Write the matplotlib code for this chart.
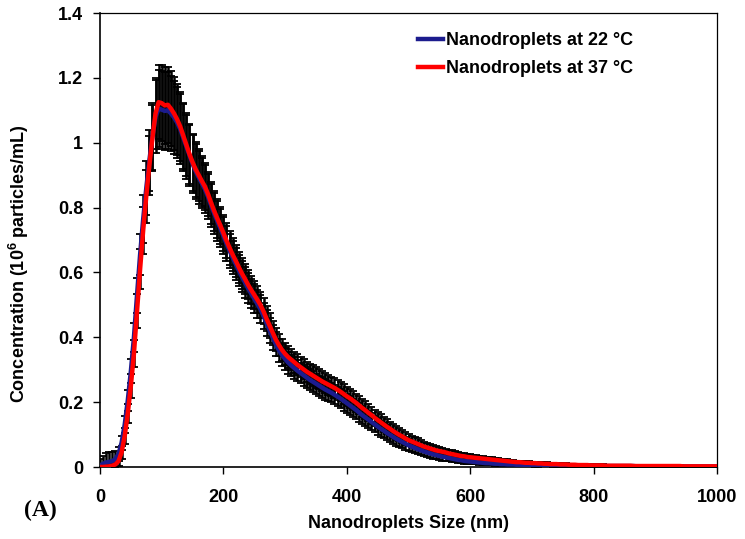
import numpy as np
import matplotlib
matplotlib.use("Agg")
import matplotlib.pyplot as plt
from matplotlib.lines import Line2D

plt.rcParams['font.family'] = ['Liberation Sans', 'DejaVu Sans']
plt.rcParams['font.weight'] = 'bold'
plt.rcParams['mathtext.fontset'] = 'custom'
plt.rcParams['mathtext.rm'] = 'Liberation Sans:bold'
plt.rcParams['mathtext.bf'] = 'Liberation Sans:bold'

# ---------------- data ----------------
size_nm = list(range(0, 1001, 5))

conc_37 = [
    0.000, 0.000, 0.001, 0.002, 0.004, 0.008, 0.018, 0.045, 0.095, 0.165,
    0.250, 0.350, 0.480, 0.610, 0.730, 0.835, 0.930, 1.015, 1.090, 1.125,
    1.122, 1.115, 1.117, 1.105, 1.090, 1.072, 1.050, 1.022, 0.995, 0.965,
    0.940, 0.918, 0.900, 0.882, 0.865, 0.842, 0.815, 0.790, 0.767, 0.745,
    0.722, 0.698, 0.676, 0.655, 0.636, 0.616, 0.597, 0.580, 0.562, 0.546,
    0.531, 0.516, 0.500, 0.480, 0.457, 0.436, 0.414, 0.393, 0.376, 0.361,
    0.349, 0.339, 0.331, 0.323, 0.315, 0.308, 0.301, 0.294, 0.288, 0.282,
    0.276, 0.270, 0.264, 0.259, 0.254, 0.249, 0.244, 0.238, 0.232, 0.225,
    0.218, 0.212, 0.205, 0.198, 0.190, 0.182, 0.175, 0.167, 0.160, 0.152,
    0.145, 0.138, 0.131, 0.124, 0.118, 0.111, 0.105, 0.099, 0.094, 0.088,
    0.083, 0.079, 0.075, 0.071, 0.067, 0.063, 0.060, 0.057, 0.054, 0.051,
    0.049, 0.047, 0.045, 0.042, 0.040, 0.038, 0.036, 0.034, 0.033, 0.031,
    0.030, 0.029, 0.028, 0.027, 0.026, 0.025, 0.024, 0.023, 0.022, 0.021,
    0.020, 0.019, 0.018, 0.017, 0.016, 0.015, 0.015, 0.014, 0.013, 0.013,
    0.012, 0.012, 0.011, 0.011, 0.010, 0.010, 0.009, 0.009, 0.009, 0.008,
    0.008, 0.008, 0.007, 0.007, 0.007, 0.006, 0.006, 0.006, 0.006, 0.005,
    0.005, 0.005, 0.005, 0.005, 0.004, 0.004, 0.004, 0.004, 0.004, 0.004,
    0.004, 0.004, 0.004, 0.003, 0.003, 0.003, 0.003, 0.003, 0.003, 0.003,
    0.003, 0.003, 0.003, 0.003, 0.003, 0.003, 0.003, 0.003, 0.003, 0.002,
    0.002, 0.002, 0.002, 0.002, 0.002, 0.002, 0.002, 0.002, 0.002, 0.002,
    0.002,
]

conc_22 = [
    0.005, 0.010, 0.014, 0.016, 0.018, 0.025, 0.040, 0.075, 0.130, 0.205,
    0.295, 0.400, 0.530, 0.655, 0.765, 0.860, 0.945, 1.020, 1.080, 1.105,
    1.102, 1.098, 1.100, 1.090, 1.078, 1.062, 1.042, 1.015, 0.988, 0.960,
    0.935, 0.912, 0.893, 0.875, 0.857, 0.834, 0.807, 0.782, 0.759, 0.736,
    0.713, 0.689, 0.667, 0.646, 0.626, 0.606, 0.587, 0.569, 0.551, 0.535,
    0.519, 0.503, 0.487, 0.466, 0.443, 0.421, 0.399, 0.378, 0.360, 0.345,
    0.333, 0.322, 0.313, 0.305, 0.297, 0.290, 0.283, 0.276, 0.269, 0.263,
    0.257, 0.251, 0.245, 0.239, 0.234, 0.229, 0.223, 0.217, 0.211, 0.204,
    0.197, 0.190, 0.183, 0.176, 0.168, 0.160, 0.153, 0.146, 0.139, 0.132,
    0.125, 0.118, 0.112, 0.105, 0.099, 0.093, 0.087, 0.082, 0.077, 0.072,
    0.067, 0.063, 0.059, 0.055, 0.052, 0.048, 0.045, 0.042, 0.039, 0.037,
    0.034, 0.032, 0.030, 0.028, 0.026, 0.024, 0.022, 0.021, 0.019, 0.018,
    0.017, 0.016, 0.015, 0.014, 0.013, 0.012, 0.012, 0.011, 0.010, 0.010,
    0.009, 0.009, 0.008, 0.008, 0.008, 0.007, 0.007, 0.007, 0.006, 0.006,
    0.006, 0.005, 0.005, 0.005, 0.005, 0.005, 0.005, 0.004, 0.004, 0.004,
    0.004, 0.004, 0.004, 0.004, 0.003, 0.003, 0.003, 0.003, 0.003, 0.003,
    0.003, 0.003, 0.003, 0.003, 0.003, 0.003, 0.003, 0.003, 0.003, 0.003,
    0.003, 0.003, 0.003, 0.003, 0.002, 0.002, 0.002, 0.002, 0.002, 0.002,
    0.002, 0.002, 0.002, 0.002, 0.002, 0.002, 0.002, 0.002, 0.002, 0.002,
    0.002, 0.002, 0.002, 0.002, 0.002, 0.002, 0.002, 0.002, 0.002, 0.002,
    0.002,
]

err_37 = [
    0.005, 0.005, 0.006, 0.008, 0.010, 0.012, 0.015, 0.020, 0.025, 0.030,
    0.036, 0.043, 0.052, 0.062, 0.072, 0.082, 0.092, 0.102, 0.110, 0.115,
    0.117, 0.118, 0.117, 0.115, 0.112, 0.109, 0.106, 0.102, 0.098, 0.093,
    0.088, 0.084, 0.080, 0.076, 0.072, 0.068, 0.065, 0.062, 0.060, 0.058,
    0.056, 0.054, 0.052, 0.050, 0.049, 0.048, 0.047, 0.046, 0.045, 0.044,
    0.043, 0.042, 0.041, 0.040, 0.039, 0.038, 0.037, 0.036, 0.035, 0.034,
    0.033, 0.033, 0.032, 0.032, 0.032, 0.031, 0.031, 0.031, 0.031, 0.031,
    0.031, 0.031, 0.031, 0.031, 0.031, 0.030, 0.030, 0.030, 0.030, 0.030,
    0.029, 0.029, 0.028, 0.028, 0.028, 0.027, 0.027, 0.026, 0.026, 0.025,
    0.025, 0.024, 0.024, 0.023, 0.022, 0.022, 0.021, 0.020, 0.020, 0.019,
    0.018, 0.018, 0.017, 0.017, 0.016, 0.015, 0.015, 0.014, 0.014, 0.013,
    0.013, 0.012, 0.012, 0.011, 0.011, 0.010, 0.010, 0.010, 0.009, 0.009,
    0.009, 0.008, 0.008, 0.008, 0.007, 0.007, 0.007, 0.007, 0.006, 0.006,
    0.006, 0.006, 0.006, 0.005, 0.005, 0.005, 0.005, 0.005, 0.005, 0.004,
    0.004, 0.004, 0.004, 0.004, 0.004, 0.004, 0.004, 0.004, 0.004, 0.004,
    0.003, 0.003, 0.003, 0.003, 0.003, 0.003, 0.003, 0.003, 0.003, 0.003,
    0.003, 0.003, 0.003, 0.003, 0.003, 0.003, 0.003, 0.003, 0.003, 0.003,
    0.003, 0.003, 0.003, 0.002, 0.002, 0.002, 0.002, 0.002, 0.002, 0.002,
    0.002, 0.002, 0.002, 0.002, 0.002, 0.002, 0.002, 0.002, 0.002, 0.002,
    0.002, 0.002, 0.002, 0.002, 0.002, 0.002, 0.002, 0.002, 0.002, 0.002,
    0.002,
]

err_22 = [
    0.020, 0.025, 0.030, 0.030, 0.028, 0.025, 0.022, 0.022, 0.026, 0.031,
    0.037, 0.045, 0.054, 0.064, 0.074, 0.084, 0.094, 0.104, 0.112, 0.118,
    0.120, 0.120, 0.118, 0.116, 0.113, 0.110, 0.107, 0.103, 0.099, 0.094,
    0.089, 0.085, 0.081, 0.077, 0.073, 0.069, 0.066, 0.063, 0.061, 0.059,
    0.057, 0.055, 0.053, 0.051, 0.050, 0.049, 0.048, 0.047, 0.046, 0.045,
    0.044, 0.043, 0.042, 0.041, 0.040, 0.039, 0.038, 0.037, 0.036, 0.035,
    0.034, 0.034, 0.033, 0.033, 0.033, 0.032, 0.032, 0.032, 0.032, 0.032,
    0.031, 0.031, 0.031, 0.031, 0.031, 0.030, 0.030, 0.030, 0.030, 0.030,
    0.029, 0.029, 0.028, 0.028, 0.028, 0.027, 0.027, 0.026, 0.026, 0.025,
    0.025, 0.024, 0.023, 0.023, 0.022, 0.021, 0.021, 0.020, 0.019, 0.019,
    0.018, 0.017, 0.017, 0.016, 0.015, 0.015, 0.014, 0.014, 0.013, 0.013,
    0.012, 0.012, 0.011, 0.011, 0.010, 0.010, 0.009, 0.009, 0.009, 0.008,
    0.008, 0.008, 0.007, 0.007, 0.007, 0.006, 0.006, 0.006, 0.006, 0.005,
    0.005, 0.005, 0.005, 0.005, 0.004, 0.004, 0.004, 0.004, 0.004, 0.004,
    0.004, 0.004, 0.004, 0.003, 0.003, 0.003, 0.003, 0.003, 0.003, 0.003,
    0.003, 0.003, 0.003, 0.003, 0.003, 0.003, 0.003, 0.003, 0.003, 0.003,
    0.003, 0.003, 0.003, 0.003, 0.003, 0.002, 0.002, 0.002, 0.002, 0.002,
    0.002, 0.002, 0.002, 0.002, 0.002, 0.002, 0.002, 0.002, 0.002, 0.002,
    0.002, 0.002, 0.002, 0.002, 0.002, 0.002, 0.002, 0.002, 0.002, 0.002,
    0.002, 0.002, 0.002, 0.002, 0.002, 0.002, 0.002, 0.002, 0.002, 0.002,
    0.002,
]

series_labels = ["Nanodroplets at 22 \u00b0C", "Nanodroplets at 37 \u00b0C"]
x_ticks = [0, 200, 400, 600, 800, 1000]
y_ticks = [0, 0.2, 0.4, 0.6, 0.8, 1.0, 1.2, 1.4]
y_tick_labels = ["0", "0.2", "0.4", "0.6", "0.8", "1", "1.2", "1.4"]

# ---------------- figure ----------------
W, H = 745, 539
fig = plt.figure(figsize=(W / 100, H / 100), dpi=100)
ax = fig.add_axes([100 / W, (H - 467) / H, 617 / W, 454 / H])

blue = '#1c1c8e'
red = '#ff0000'

for yv, ev in ((conc_22, err_22), (conc_37, err_37)):
    ax.errorbar(size_nm, yv, yerr=ev, fmt='none', ecolor='black',
                elinewidth=1.8, capsize=2.8, capthick=1.3, zorder=1)
ax.plot(size_nm, conc_22, color=blue, lw=3.2, zorder=3,
        solid_joinstyle='round', solid_capstyle='round')
ax.plot(size_nm, conc_37, color=red, lw=3.2, zorder=4,
        solid_joinstyle='round', solid_capstyle='round')

ax.set_xlim(0, 1000)
ax.set_ylim(0, 1.4)
ax.set_xticks(x_ticks)
ax.set_xticklabels([str(v) for v in x_ticks])
ax.set_yticks(y_ticks)
ax.set_yticklabels(y_tick_labels)
ax.tick_params(axis='both', direction='out', length=5, width=1,
               labelsize=13, colors='black')
ax.tick_params(axis='x', pad=11)
ax.tick_params(axis='y', pad=7)
for lab in ax.get_xticklabels() + ax.get_yticklabels():
    lab.set_fontweight('bold')
for s in ('left', 'bottom'):
    ax.spines[s].set_linewidth(1.2)
for s in ('top', 'right'):
    ax.spines[s].set_linewidth(0.9)

handles = [Line2D([], [], color=blue, lw=3.2),
           Line2D([], [], color=red, lw=3.2)]
fig.legend(handles, series_labels, loc='upper left',
           bbox_to_anchor=(418 / W, 1 - 32 / H), frameon=False,
           handlelength=1.4, handletextpad=0.15, labelspacing=0.62,
           borderpad=0, borderaxespad=0,
           prop={'family': 'Liberation Sans', 'weight': 'bold', 'size': 13})

fig.text(408 / W, 1 - 523 / H, "Nanodroplets Size (nm)", ha='center',
         va='center', fontsize=13, fontweight='bold')
fig.text(19 / W, 1 - 264 / H, r"Concentration (10$^{6}$ particles/mL)",
         ha='center', va='center', rotation=90, fontsize=13,
         fontweight='bold')
fig.text(24 / W, 1 - 510 / H, "(A)", ha='left', va='center',
         fontsize=17, fontweight='bold',
         family=['Liberation Serif', 'DejaVu Serif'])

fig.savefig("out.png", dpi=100)
